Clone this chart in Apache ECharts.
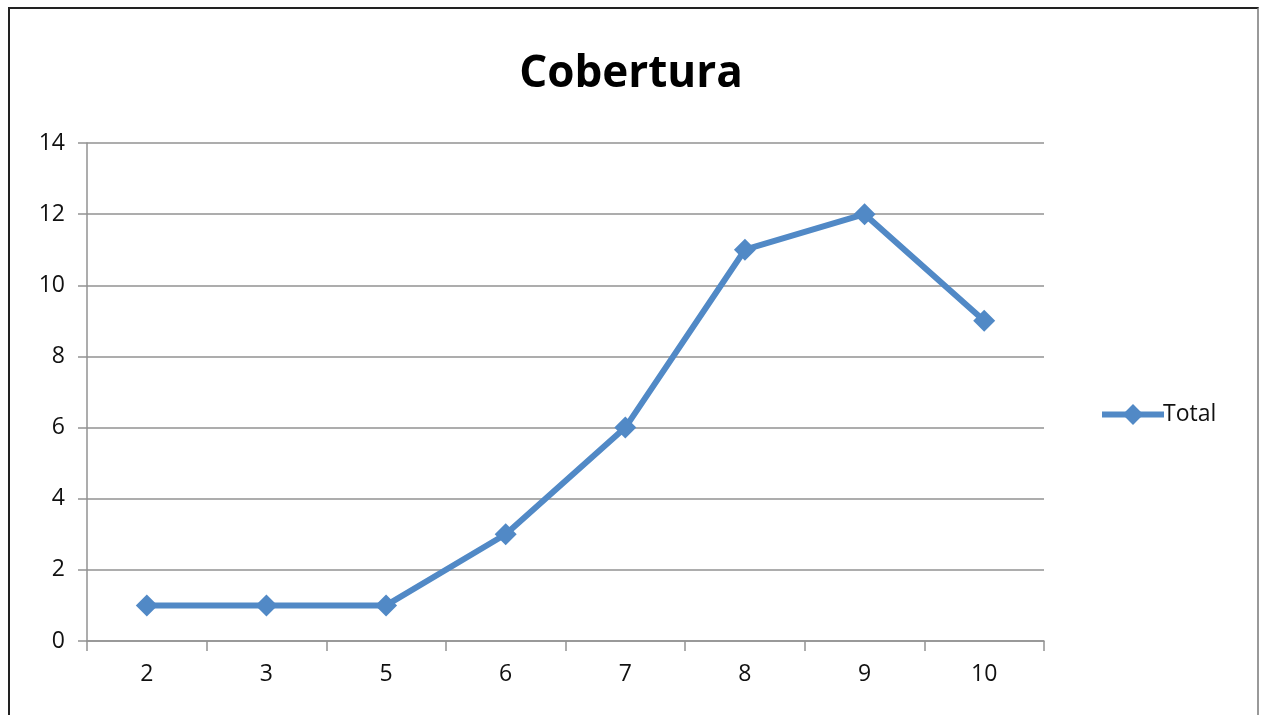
<!DOCTYPE html>
<html>
<head>
<meta charset="utf-8">
<script src="https://cdn.jsdelivr.net/npm/echarts@6/dist/echarts.min.js"></script>
<style>
html, body { margin: 0; padding: 0; background: #fff; }
#frame { position: absolute; left: 8px; top: 7px; width: 1251px; height: 720px;
  border-left: 2px solid #222; border-top: 2px solid #222; border-right: 2px solid #999; box-sizing: border-box; }
#chart { position: absolute; left: 0; top: 0; width: 1262px; height: 715px; }
</style>
</head>
<body>
<div id="frame"></div>
<div id="chart"></div>
<script>
const categories = ['2', '3', '5', '6', '7', '8', '9', '10']
const totalValues = [1, 1, 1, 3, 6, 11, 12, 9]

const blue = '#5189c6'
const gridGrey = '#929292'
const font = 'Open Sans'

const chart = echarts.init(document.getElementById('chart'))
chart.setOption({
    animation: false,
    title: {
        text: 'Cobertura',
        left: 'center',
        top: 47,
        textStyle: { fontFamily: font, fontSize: 44, fontWeight: 'bold', color: '#000' }
    },
    legend: {
        data: ['Total'],
        orient: 'vertical',
        left: 1094,
        top: 398,
        itemWidth: 62,
        itemHeight: 26,
        itemGap: 4,
        itemStyle: { color: blue },
        lineStyle: { color: blue, width: 6 },
        textStyle: { fontFamily: font, fontSize: 23, color: '#111', padding: [0, 0, 0, -6] }
    },
    grid: { left: 87, right: 218, top: 143, bottom: 74 },
    xAxis: {
        type: 'category',
        data: categories,
        boundaryGap: true,
        axisLine: { lineStyle: { color: gridGrey, width: 1.5 } },
        axisTick: { show: true, length: 10, lineStyle: { color: gridGrey, width: 1.5 } },
        axisLabel: { fontFamily: font, fontSize: 23, color: '#111', margin: 22 }
    },
    yAxis: {
        type: 'value',
        min: 0,
        max: 14,
        interval: 2,
        axisLine: { show: true, lineStyle: { color: gridGrey, width: 1.5 } },
        axisTick: { show: true, length: 9, lineStyle: { color: gridGrey, width: 1.5 } },
        axisLabel: { fontFamily: font, fontSize: 23, color: '#111', margin: 22 },
        splitLine: { lineStyle: { color: gridGrey, width: 1.5 } }
    },
    series: [{
        name: 'Total',
        type: 'line',
        data: totalValues,
        symbol: 'diamond',
        symbolSize: 22,
        itemStyle: { color: blue },
        lineStyle: { color: blue, width: 6 }
    }]
})
</script>
</body>
</html>
